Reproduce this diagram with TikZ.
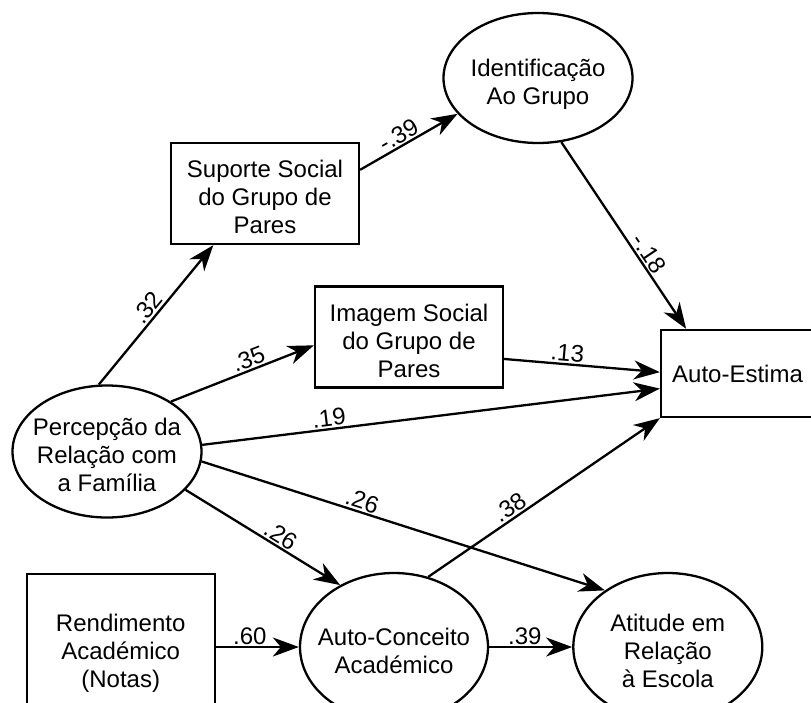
\documentclass[tikz,border=0pt]{standalone}
\usepackage{fontspec}
\setmainfont{Liberation Sans}
\usetikzlibrary{positioning,shapes.geometric,arrows.meta}
% text sits a little below the middle of each shape, and does not size it
\newcommand{\lowtext}[1]{\raisebox{-13pt}[0pt][0pt]{\makebox[0pt]{\begin{tabular}{@{}c@{}}#1\end{tabular}}}}

\begin{document}
\begin{tikzpicture} [x=1pt, y=-1pt, line width=2.3pt,
  every node/.style={draw, inner sep=0pt, font=\fontsize{24}{28}\selectfont},
  effect/.style={-{Stealth[length=26pt, width=19pt, inset=8pt]}},
  coef/.style={draw=none, sloped, above, inner sep=1.5pt, font=\fontsize{24}{28}\selectfont}]
\tikzstyle{box}=[rectangle, minimum width=188pt, minimum height=101pt]
\tikzstyle{oval}=[ellipse, minimum width=189pt, minimum height=130pt]
\clip (0,0) rectangle (811,702);

\node [box] (suporte) at (265,193.5) {\lowtext{Suporte Social\\do Grupo de\\Pares}};
\node [box] (imagem) at (409,337) {\lowtext{Imagem Social\\do Grupo de\\Pares}};
\node [box, minimum width=153pt, minimum height=87pt] (estima) at (737.5,373.5) {Auto-Estima};
\node [oval] (grupo) at (538,78) {\lowtext{Identificação\\Ao Grupo}};
\node [oval, minimum height=132pt] (familia) at (107,451.5) {\lowtext{Percepção da\\Relação com\\a Família}};
\node [oval, minimum width=188pt, minimum height=148pt] (conceito) at (394,647) {\lowtext{Auto-Conceito\\Académico}};
\node [box, minimum height=146pt, left=83pt of conceito] (notas) {\lowtext{Rendimento\\Académico\\(Notas)}};
\node [oval, minimum height=148pt, right=83pt of conceito] (escola) {\lowtext{Atitude em\\Relação\\à Escola}};

\draw [effect] (suporte.14) -- (grupo.204) node [coef, pos=.45] {-.39};
\draw [effect] (grupo.290) -- (estima.139) node [coef, pos=.63] {-.18};
\draw [effect] (familia.97) -- (suporte.225) node [coef, pos=.5] {.32};
\draw [effect] (familia.38) -- (imagem.185) node [coef, pos=.57] {.35};
\draw [effect] (imagem.347) -- (estima.179) node [coef, pos=.4] {.13};
\draw [effect] (familia.4) -- (estima.191) node [coef, pos=.28] {.19};
\draw [effect] (familia.354) -- (escola.138) node [coef, pos=.39] {.26};
\draw [effect] (familia.334) -- (conceito.131) node [coef, pos=.58] {.26};
\draw [effect] (conceito.64) -- (estima.south west) node [coef, pos=.38] {.38};
\draw [effect] (notas) -- (conceito) node [coef, pos=.41] {.60};
\draw [effect] (conceito) -- (escola) node [coef, pos=.43] {.39};
\end{tikzpicture}
\end{document}
